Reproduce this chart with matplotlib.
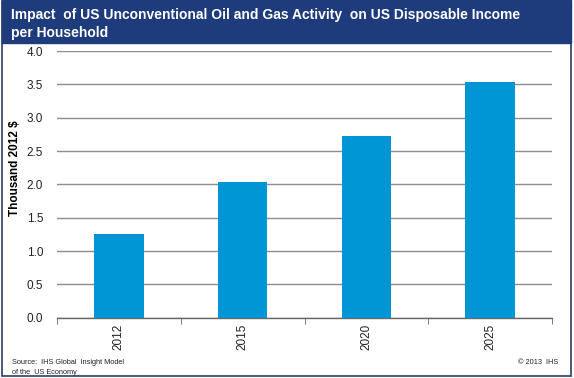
import matplotlib
matplotlib.use("Agg")
import matplotlib.pyplot as plt
from matplotlib.patches import Rectangle

years = ["2012", "2015", "2020", "2025"]
income = [1.25, 2.04, 2.73, 3.53]
yticks = [0.0, 0.5, 1.0, 1.5, 2.0, 2.5, 3.0, 3.5, 4.0]

plt.rcParams['font.family'] = ['Liberation Sans', 'DejaVu Sans']

W, H = 574, 378
fig = plt.figure(figsize=(W / 100, H / 100), dpi=100)
fig.patch.set_facecolor("white")

navy = "#1e3c7b"
# border and title bar
fig.patches.append(Rectangle((2 / W, 2 / H), 569 / W, 1 - 3 / H, transform=fig.transFigure,
                             fill=False, edgecolor="#2a3f5f", linewidth=1.2))
fig.patches.append(Rectangle((2 / W, 1 - 43 / H), 569 / W, 43 / H, transform=fig.transFigure,
                             facecolor=navy, edgecolor=navy))
fig.text(11 / W, 1 - 15 / H, "Impact  of US Unconventional Oil and Gas Activity  on US Disposable Income",
         color="white", fontsize=10, fontweight="bold", va="center", ha="left")
fig.text(11 / W, 1 - 33 / H, "per Household",
         color="white", fontsize=10, fontweight="bold", va="center", ha="left")

ax = fig.add_axes([57 / W, 60.3 / H, 495 / W, 266.7 / H])
x = range(len(years))
ax.bar(x, income, width=0.4, color="#0096d6", zorder=3)

ax.set_xlim(-0.5, len(years) - 0.5)
ax.set_ylim(0, 4)
ax.set_yticks(yticks)
ax.set_yticklabels([f"{v:.1f}" for v in yticks], fontsize=8.5, color="#222222")
ax.set_xticks(list(x))
ax.set_xticklabels(years, rotation=90, fontsize=8.5, color="#222222")
ax.set_xticks([i - 0.5 for i in range(len(years) + 1)], minor=True)
ax.tick_params(axis="x", which="major", length=0, pad=4)
ax.tick_params(axis="x", which="minor", length=4, color="#666666", direction="out")
ax.tick_params(axis="y", length=0, pad=10)

ax.yaxis.grid(True, color="#8c8c8c", linewidth=1, zorder=0)
for s in ["top", "right", "left"]:
    ax.spines[s].set_visible(False)
ax.spines["bottom"].set_color("#666666")
ax.spines["bottom"].set_linewidth(1)

ax.set_ylabel("Thousand 2012 $", fontsize=8.5, fontweight="bold", va="center")
ax.yaxis.set_label_coords(-42 / 495, 0.56)

fig.text(12 / W, 1 - 362 / H, "Source:  IHS Global  Insight Model", fontsize=5.3, color="#222222", va="center")
fig.text(12 / W, 1 - 372 / H, "of the  US Economy", fontsize=5.3, color="#222222", va="center")
fig.text(558 / W, 1 - 362 / H, "© 2013  IHS", fontsize=5.3, color="#222222", va="center", ha="right")

fig.savefig("out.png", dpi=100)
